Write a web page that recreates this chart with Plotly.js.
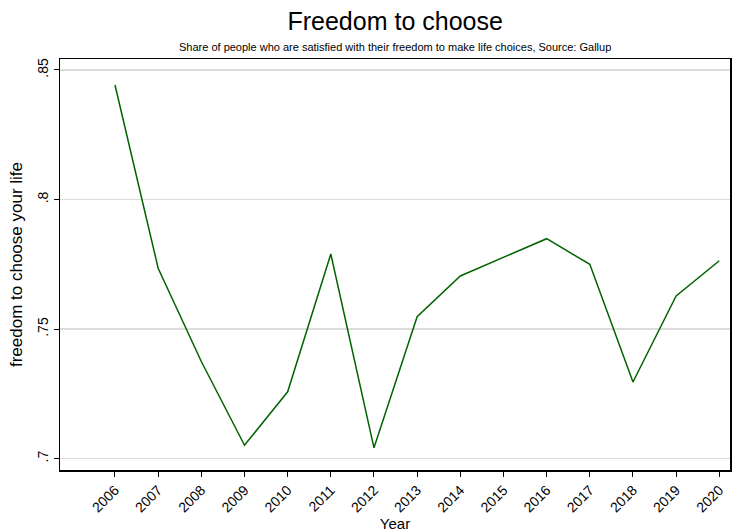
<!DOCTYPE html>
<html>
<head>
<meta charset="utf-8">
<script src="https://cdn.plot.ly/plotly-3.0.1.min.js"></script>
<style>html,body{margin:0;padding:0;background:#fff;}#chart{width:740px;height:532px;}</style>
</head>
<body>
<div id="chart"></div>
<script>
const years = [2006, 2007, 2008, 2009, 2010, 2011, 2012, 2013, 2014, 2015, 2016, 2017, 2018, 2019, 2020];
const freedom = [0.8442, 0.7735, 0.7375, 0.7052, 0.7258, 0.7790, 0.7042, 0.7548, 0.7705, 0.7777, 0.7849, 0.7750, 0.7296, 0.7628, 0.7764];
const yTickVals = [0.7, 0.75, 0.8, 0.85];
const yTickText = ['.7', '.75', '.8', '.85'];
const xTickLabels = years.map(String);

const font = 'Liberation Sans, Arial, sans-serif';

Plotly.newPlot('chart', [{
  x: years, y: freedom, type: 'scatter', mode: 'lines',
  line: {color: '#006400', width: 1.5}, hoverinfo: 'x+y'
}], {
  width: 740, height: 532,
  margin: {l: 60, r: 10, t: 59, b: 62},
  paper_bgcolor: '#ffffff', plot_bgcolor: '#ffffff',
  font: {family: font, color: '#000'},
  showlegend: false,
  title: {text: 'Freedom to choose', font: {family: font, size: 25, color: '#000'}, x: 0.534, xanchor: 'center', y: 0.96, yanchor: 'middle'},
  annotations: [{
    text: 'Share of people who are satisfied with their freedom to make life choices, Source: Gallup',
    xref: 'paper', yref: 'paper', x: 0.5, y: 1, yshift: 12, xanchor: 'center', yanchor: 'middle',
    showarrow: false, font: {family: font, size: 11, color: '#000'}
  }],
  xaxis: {
    range: [2004.726, 2020.248], tickvals: years, ticktext: xTickLabels, tickangle: -45,
    ticks: 'outside', ticklen: 5, tickcolor: '#000', tickwidth: 1,
    showgrid: false, zeroline: false, showline: true, linecolor: '#000', linewidth: 1.5, mirror: true,
    tickfont: {family: font, size: 14, color: '#000'},
    title: {text: 'Year', font: {family: font, size: 15, color: '#000'}, standoff: 4}
  },
  yaxis: {
    range: [0.69564, 0.85424], tickvals: yTickVals, ticktext: yTickText, tickangle: -90,
    ticks: 'outside', ticklen: 5, tickcolor: '#000', tickwidth: 1,
    showgrid: true, gridcolor: '#dcdcdc', gridwidth: 1.5, zeroline: false,
    showline: true, linecolor: '#000', linewidth: 1.5, mirror: true,
    tickfont: {family: font, size: 14, color: '#000'},
    title: {text: 'freedom to choose your life', font: {family: font, size: 17, color: '#000'}, standoff: 8}
  }
}, {displayModeBar: false, staticPlot: true});
</script>
</body>
</html>
